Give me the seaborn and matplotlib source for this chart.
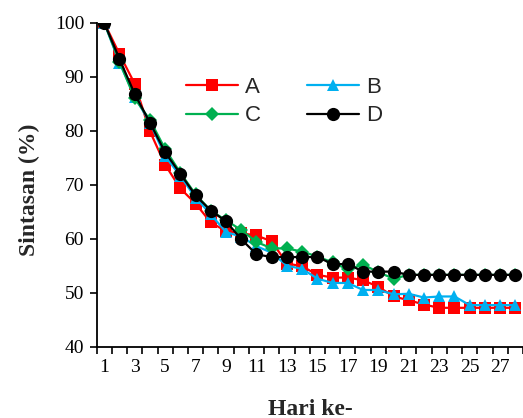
import numpy as np
import pandas as pd
import matplotlib
matplotlib.use("Agg")
import matplotlib.pyplot as plt
import seaborn as sns
from matplotlib.ticker import FixedLocator

days = list(range(1, 29))
A = [100, 94.2, 88.7, 79.9, 73.7, 69.3, 66.5, 63.0, 61.4, 61.0, 60.6, 59.5, 55.4, 54.9, 53.3,
     52.8, 52.8, 52.3, 51.1, 49.3, 48.6, 47.8, 47.2, 47.2, 47.2, 47.2, 47.2, 47.2]
B = [100, 92.6, 86.3, 81.5, 75.3, 71.6, 67.6, 64.5, 61.2, 60.4, 58.6, 57.4, 55.0, 54.4, 52.6,
     51.8, 51.8, 50.5, 50.5, 49.7, 49.8, 49.1, 49.3, 49.3, 47.7, 47.7, 47.7, 47.7]
C = [100, 92.8, 86.0, 82.0, 76.6, 72.2, 68.2, 65.2, 63.4, 61.6, 59.4, 58.2, 58.2, 57.6, 56.7,
     55.6, 54.3, 55.2, 53.8, 52.6, 53.3, 53.3, 53.3, 53.3, 53.3, 53.3, 53.3, 53.3]
D = [100, 93.3, 86.8, 81.5, 76.0, 72.0, 68.0, 65.2, 63.2, 59.9, 57.1, 56.6, 56.6, 56.6, 56.6,
     55.3, 55.3, 53.9, 53.9, 53.9, 53.3, 53.3, 53.3, 53.3, 53.3, 53.3, 53.3, 53.3]
y_ticks = [40, 50, 60, 70, 80, 90, 100]
x_labels = [1, 3, 5, 7, 9, 11, 13, 15, 17, 19, 21, 23, 25, 27]

sns.set_style("white")
plt.rcParams["font.family"] = ["Liberation Serif", "DejaVu Serif"]

fig = plt.figure(figsize=(5.23, 4.18), dpi=100)
ax = fig.add_axes([0.1847, 0.1706, 0.8153, 0.7751])

series = [
    ("A", A, "#FF0000", "s", 8.0),
    ("B", B, "#00B0F0", "^", 8.5),
    ("C", C, "#00B050", "D", 7.0),
    ("D", D, "#000000", "o", 9.5),
]
handles = {}
for name, vals, col, mk, ms in series:
    df = pd.DataFrame({"day": days, "val": vals})
    sns.lineplot(data=df, x="day", y="val", ax=ax, color=col, marker=mk,
                 markersize=ms, markeredgewidth=0, linewidth=1.6, label=name)
    handles[name] = ax.get_lines()[-1]

ax.set_xlim(0.5, 28.5)
ax.set_ylim(40, 100)
ax.set_yticks(y_ticks)
ax.set_xticks(x_labels)
ax.set_xticklabels([str(v) for v in x_labels])
ax.xaxis.set_minor_locator(FixedLocator(np.arange(0.5, 28.6, 1.0)))
ax.tick_params(axis="x", which="major", length=0, pad=9, labelsize=14, colors="black")
ax.tick_params(axis="x", which="minor", length=5, width=1.2, direction="out", bottom=True, color="black")
ax.tick_params(axis="y", which="major", length=5, width=1.2, direction="out", left=True,
               pad=4, labelsize=14, colors="black")

for s in ["top", "right"]:
    ax.spines[s].set_visible(False)
for s in ["left", "bottom"]:
    ax.spines[s].set_color("black")
    ax.spines[s].set_linewidth(1.3)

ax.set_xlabel("Hari ke-", fontsize=17, fontweight="bold")
ax.set_ylabel("Sintasan (%)", fontsize=17, fontweight="bold")
ax.xaxis.set_label_coords(0.5005, -0.16)
ax.yaxis.set_label_coords(-0.133, 0.484)

ax.legend(handles=[handles["A"], handles["C"], handles["B"], handles["D"]],
          labels=["A", "C", "B", "D"], ncol=2, frameon=False,
          prop={"family": "Liberation Sans", "size": 16},
          handlelength=2.34, handletextpad=0.32, columnspacing=2.1,
          labelspacing=0.33, loc="upper left",
          bbox_to_anchor=(0.188, 0.86), borderaxespad=0)

fig.savefig("out.png", dpi=100)
